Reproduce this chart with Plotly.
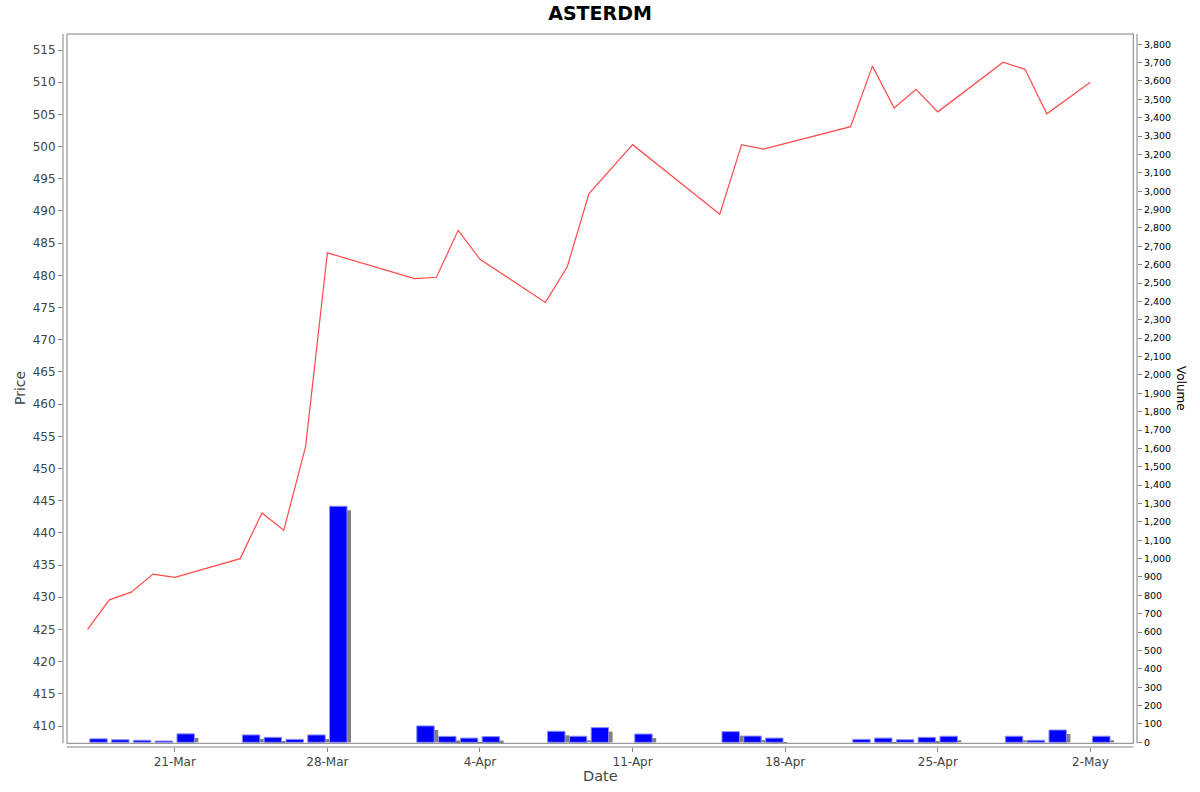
import pandas as pd
import plotly.graph_objects as go

dates = ["2025-03-17", "2025-03-18", "2025-03-19", "2025-03-20", "2025-03-21",
         "2025-03-24", "2025-03-25", "2025-03-26", "2025-03-27", "2025-03-28",
         "2025-04-01", "2025-04-02", "2025-04-03", "2025-04-04",
         "2025-04-07", "2025-04-08", "2025-04-09", "2025-04-11",
         "2025-04-15", "2025-04-16", "2025-04-17",
         "2025-04-21", "2025-04-22", "2025-04-23", "2025-04-24", "2025-04-25",
         "2025-04-28", "2025-04-29", "2025-04-30", "2025-05-02"]

price = [425.0, 429.6, 430.8, 433.6, 433.1,
         436.0, 443.1, 440.4, 453.4, 483.5,
         479.5, 479.7, 487.0, 482.5,
         475.8, 481.3, 492.7, 500.3,
         489.5, 500.3, 499.6,
         503.1, 512.5, 506.0, 508.9, 505.4,
         513.1, 512.0, 505.1, 510.0]

volume = [19, 14, 11, 7, 46,
          40, 27, 16, 40, 1285,
          89, 32, 23, 31,
          60, 33, 80, 45,
          58, 34, 23,
          16, 23, 14, 27, 33,
          33, 11, 67, 33]

price_ticks = list(range(410, 516, 5))
volume_ticks = list(range(0, 3801, 100))

DAY_MS = 86400000
d = pd.to_datetime(dates)
bar_x = d + pd.Timedelta(hours=12)
shadow_x = bar_x + pd.Timedelta(days=0.183)
shadow_y = [max(v - 21.8, 0) for v in volume]

fig = go.Figure()

fig.add_trace(go.Bar(x=shadow_x, y=shadow_y, yaxis="y2", width=0.8 * DAY_MS,
                     marker=dict(color="#808080", line=dict(width=0)),
                     showlegend=False, hoverinfo="skip"))
fig.add_trace(go.Bar(x=bar_x, y=volume, yaxis="y2", width=0.8 * DAY_MS,
                     marker=dict(color="#0000ff", line=dict(color="#8c8cff", width=1)),
                     name="Volume", showlegend=False))
fig.add_trace(go.Scatter(x=d, y=price, mode="lines", yaxis="y",
                         line=dict(color="#ff4a4a", width=1.2),
                         name="Price", showlegend=False))

FONT = "DejaVu Sans"
axcol = "#808080"
labcol = "#444444"

# plot area in px: x 63..1137, y 34..747
W = 1200 - 63 - 63
H = 792 - 34 - 45
ix0 = 4.0 / W
ix1 = 1 - 3.7 / W
iy0 = 3.7 / H

fig.update_layout(
    width=1200, height=792,
    margin=dict(l=63, r=63, t=34, b=45),
    paper_bgcolor="white", plot_bgcolor="white",
    barmode="overlay",
    font=dict(family=FONT, color=labcol),
    title=dict(text="<b>ASTERDM</b>", x=0.5, xanchor="center",
               y=1 - 13.0 / 792, yanchor="middle",
               font=dict(family=FONT, size=19, color="#000000")),
    xaxis=dict(type="date",
               range=["2025-03-15 20:56", "2025-05-04 03:19"],
               tick0="2025-03-21", dtick=7 * DAY_MS, tickformat="%-d-%b",
               ticks="outside", ticklen=4, tickcolor=axcol,
               showgrid=False, zeroline=False, showline=False,
               tickfont=dict(family=FONT, size=12, color=labcol)),
    yaxis=dict(range=[406.74, 517.49], tickmode="array", tickvals=price_ticks,
               ticks="outside", ticklen=4, tickcolor=axcol,
               showgrid=False, zeroline=False, showline=False,
               tickfont=dict(family=FONT, size=12, color=labcol)),
    yaxis2=dict(range=[-25.6, 3855.7], overlaying="y", side="right",
                tickmode="array", tickvals=volume_ticks, tickformat=",d",
                ticks="outside", ticklen=4, tickcolor=axcol,
                showgrid=False, zeroline=False, showline=False,
                tickfont=dict(family=FONT, size=9.5, color="#000000")),
    shapes=[
        dict(type="rect", xref="paper", yref="paper", x0=ix0, x1=ix1, y0=iy0, y1=1,
             line=dict(color=axcol, width=1), layer="above"),
        dict(type="line", xref="paper", yref="paper", x0=0, x1=0, y0=iy0, y1=1,
             line=dict(color=axcol, width=1)),
        dict(type="line", xref="paper", yref="paper", x0=1, x1=1, y0=iy0, y1=1,
             line=dict(color=axcol, width=1)),
        dict(type="line", xref="paper", yref="paper", x0=ix0, x1=ix1, y0=0, y1=0,
             line=dict(color=axcol, width=1)),
    ],
    annotations=[
        dict(text="Date", xref="paper", yref="paper", x=0.5, y=-(776 - 747) / H,
             xanchor="center", yanchor="middle", showarrow=False,
             font=dict(family=FONT, size=14.5, color=labcol)),
        dict(text="Price", xref="paper", yref="paper", x=-(63 - 20) / W, y=1 - (388 - 34) / H,
             xanchor="center", yanchor="middle", textangle=-90, showarrow=False,
             font=dict(family=FONT, size=14, color=labcol)),
        dict(text="Volume", xref="paper", yref="paper", x=1 + (1181 - 1137) / W, y=1 - (388 - 34) / H,
             xanchor="center", yanchor="middle", textangle=90, showarrow=False,
             font=dict(family=FONT, size=12, color="#000000")),
    ],
)

fig.write_html("out.html", config={"displayModeBar": False},
               post_script="document.body.style.margin='0';document.body.style.padding='0';")
